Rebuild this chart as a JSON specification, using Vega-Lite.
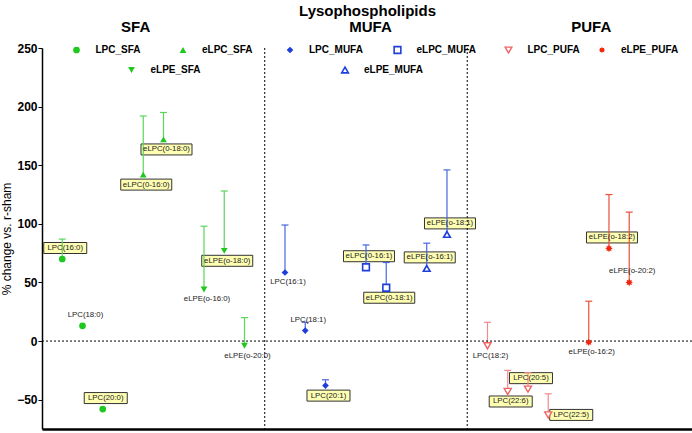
{
  "$schema": "https://vega.github.io/schema/vega-lite/v6.json",
  "width": 650,
  "height": 381,
  "autosize": {"type": "none"},
  "padding": {"left": 42, "top": 48, "right": 0, "bottom": 4},
  "background": "white",
  "config": {
    "view": {"stroke": null},
    "font": "Liberation Sans",
    "legend": {
      "orient": "none",
      "labelFont": "Liberation Sans",
      "labelFontSize": 10,
      "labelFontWeight": "bold",
      "labelColor": "black",
      "labelOffset": 14,
      "symbolSize": 45,
      "padding": 0
    }
  },
  "data": {
    "values": [
      {"g": "SFA", "s": "LPC_SFA", "l": "LPC(16:0)", "x": 0, "y": 70, "hi": 87},
      {"g": "SFA", "s": "LPC_SFA", "l": "LPC(18:0)", "x": 1, "y": 13, "hi": null},
      {"g": "SFA", "s": "LPC_SFA", "l": "LPC(20:0)", "x": 2, "y": -58, "hi": null},
      {"g": "SFA", "s": "eLPC_SFA", "l": "eLPC(0-16:0)", "x": 4, "y": 142, "hi": 192},
      {"g": "SFA", "s": "eLPC_SFA", "l": "eLPC(0-18:0)", "x": 5, "y": 172, "hi": 195},
      {"g": "SFA", "s": "eLPE_SFA", "l": "eLPE(o-16:0)", "x": 7, "y": 44, "hi": 98},
      {"g": "SFA", "s": "eLPE_SFA", "l": "eLPE(o-18:0)", "x": 8, "y": 77, "hi": 128},
      {"g": "SFA", "s": "eLPE_SFA", "l": "eLPE(o-20:0)", "x": 9, "y": -4, "hi": 20},
      {"g": "MUFA", "s": "LPC_MUFA", "l": "LPC(16:1)", "x": 11, "y": 58.5, "hi": 99},
      {"g": "MUFA", "s": "LPC_MUFA", "l": "LPC(18:1)", "x": 12, "y": 9, "hi": 16},
      {"g": "MUFA", "s": "LPC_MUFA", "l": "LPC(20:1)", "x": 13, "y": -38, "hi": -33},
      {"g": "MUFA", "s": "eLPC_MUFA", "l": "eLPC(0-16:1)", "x": 15, "y": 63, "hi": 82},
      {"g": "MUFA", "s": "eLPC_MUFA", "l": "eLPC(0-18:1)", "x": 16, "y": 45.5, "hi": 67},
      {"g": "MUFA", "s": "eLPE_MUFA", "l": "eLPE(o-16:1)", "x": 18, "y": 62, "hi": 83.5},
      {"g": "MUFA", "s": "eLPE_MUFA", "l": "eLPE(o-18:1)", "x": 19, "y": 91, "hi": 146},
      {"g": "PUFA", "s": "LPC_PUFA", "l": "LPC(18:2)", "x": 21, "y": -4, "hi": 16},
      {"g": "PUFA", "s": "LPC_PUFA", "l": "LPC(22:6)", "x": 22, "y": -43, "hi": -25},
      {"g": "PUFA", "s": "LPC_PUFA", "l": "LPC(20:5)", "x": 23, "y": -41, "hi": -27},
      {"g": "PUFA", "s": "LPC_PUFA", "l": "LPC(22:5)", "x": 24, "y": -63, "hi": -45},
      {"g": "PUFA", "s": "eLPE_PUFA", "l": "eLPE(o-16:2)", "x": 26, "y": -1, "hi": 34},
      {"g": "PUFA", "s": "eLPE_PUFA", "l": "eLPE(o-18:2)", "x": 27, "y": 79, "hi": 125},
      {"g": "PUFA", "s": "eLPE_PUFA", "l": "eLPE(o-20:2)", "x": 28, "y": 50, "hi": 110}
    ]
  },
  "resolve": {"scale": {"shape": "independent"}},
  "layer": [
    {
      "transform": [{"filter": {"field": "l", "oneOf": ["LPC(16:0)", "LPC(20:0)", "LPC(20:5)"]}}],
      "mark": {"type": "point", "shape": "M-0.74,-0.66L0.98,-0.66L0.98,-0.22L-0.74,-0.22Z", "size": 2500, "filled": true, "fill": "#ffffb3", "stroke": "#333333", "strokeWidth": 1, "opacity": 1},
      "encoding": {
        "x": {"field": "x", "type": "quantitative", "scale": {"domain": [-1, 31.1], "nice": false, "zero": false},
          "axis": {"orient": "bottom", "title": null, "labels": false, "ticks": false, "grid": false, "domainColor": "black", "domainWidth": 2.5}},
        "y": {"field": "y", "type": "quantitative", "scale": {"domain": [-75, 250], "nice": false, "zero": false},
          "title": "% change vs. r-sham",
          "axis": {
            "orient": "left",
            "values": [-50, 0, 50, 100, 150, 200, 250],
            "labelFont": "Liberation Sans", "labelFontSize": 12, "labelFontWeight": "bold", "labelColor": "black",
            "labelPadding": 1, "tickColor": "black", "tickSize": 4,
            "domainColor": "black", "domainWidth": 1.5, "grid": false,
            "titleFont": "Liberation Sans", "titleFontSize": 12, "titleFontWeight": "normal", "titleColor": "black", "titlePadding": 3
          }}
      }
    },
    {
      "transform": [{"filter": {"field": "l", "oneOf": ["eLPC(0-16:1)", "eLPE(o-16:1)", "eLPE(o-18:1)", "eLPE(o-18:2)"]}}],
      "mark": {"type": "point", "shape": "M-0.9,-0.66L1.14,-0.66L1.14,-0.22L-0.9,-0.22Z", "size": 2500, "filled": true, "fill": "#ffffb3", "stroke": "#333333", "strokeWidth": 1, "opacity": 1},
      "encoding": {"x": {"field": "x", "type": "quantitative", "axis": null}, "y": {"field": "y", "type": "quantitative"}}
    },
    {
      "transform": [{"filter": {"field": "l", "oneOf": ["LPC(20:1)", "LPC(22:6)"]}}],
      "mark": {"type": "point", "shape": "M-0.74,0.18L0.98,0.18L0.98,0.62L-0.74,0.62Z", "size": 2500, "filled": true, "fill": "#ffffb3", "stroke": "#333333", "strokeWidth": 1, "opacity": 1},
      "encoding": {"x": {"field": "x", "type": "quantitative", "axis": null}, "y": {"field": "y", "type": "quantitative"}}
    },
    {
      "transform": [{"filter": {"field": "l", "oneOf": ["eLPC(0-16:0)", "eLPC(0-18:0)", "eLPE(o-18:0)", "eLPC(0-18:1)"]}}],
      "mark": {"type": "point", "shape": "M-0.9,0.18L1.14,0.18L1.14,0.62L-0.9,0.62Z", "size": 2500, "filled": true, "fill": "#ffffb3", "stroke": "#333333", "strokeWidth": 1, "opacity": 1},
      "encoding": {"x": {"field": "x", "type": "quantitative", "axis": null}, "y": {"field": "y", "type": "quantitative"}}
    },
    {
      "transform": [{"filter": {"field": "l", "oneOf": ["LPC(22:5)"]}}],
      "mark": {"type": "point", "shape": "M0.06,-0.22L1.78,-0.22L1.78,0.22L0.06,0.22Z", "size": 2500, "filled": true, "fill": "#ffffb3", "stroke": "#333333", "strokeWidth": 1, "opacity": 1},
      "encoding": {"x": {"field": "x", "type": "quantitative", "axis": null}, "y": {"field": "y", "type": "quantitative"}}
    },
    {
      "transform": [{"filter": "datum.hi != null"}],
      "mark": {"type": "rule", "strokeWidth": 1.2},
      "encoding": {
        "x": {"field": "x", "type": "quantitative", "axis": null},
        "y": {"field": "y", "type": "quantitative"},
        "y2": {"field": "hi"},
        "color": {"field": "s", "type": "nominal", "legend": null,
          "scale": {"domain": ["LPC_SFA", "eLPC_SFA", "eLPE_SFA", "LPC_MUFA", "eLPC_MUFA", "eLPE_MUFA", "LPC_PUFA", "eLPE_PUFA"],
            "range": ["#5ad65a", "#5ad65a", "#5ad65a", "#4866e0", "#4866e0", "#4866e0", "#f28a8a", "#e8503c"]}}
      }
    },
    {
      "data": {"values": [{"z": 0}]},
      "mark": {"type": "rule", "color": "black", "strokeDash": [2, 2], "strokeWidth": 1},
      "encoding": {"y": {"field": "z", "type": "quantitative"}}
    },
    {
      "data": {"values": [{"d": 10}, {"d": 20}]},
      "mark": {"type": "rule", "color": "black", "strokeDash": [2, 2], "strokeWidth": 1},
      "encoding": {
        "x": {"field": "d", "type": "quantitative",
          "title": "Lysophospholipids",
          "axis": {
            "orient": "top", "values": [3.6, 15.2, 26.1],
            "labelExpr": "datum.value < 10 ? 'SFA' : (datum.value < 20 ? 'MUFA' : 'PUFA')",
            "labelFont": "Liberation Sans", "labelFontSize": 15, "labelFontWeight": "bold", "labelColor": "black",
            "labelPadding": 14, "labelOverlap": false, "labelFlush": false,
            "ticks": false, "domain": false, "grid": false,
            "titleFont": "Liberation Sans", "titleFontSize": 15, "titleFontWeight": "bold", "titleColor": "black", "titlePadding": 1
          }}
      }
    },
    {
      "transform": [{"filter": "datum.hi != null"}],
      "mark": {"type": "tick", "orient": "horizontal", "size": 7, "thickness": 1.2, "opacity": 1},
      "encoding": {
        "x": {"field": "x", "type": "quantitative", "axis": null},
        "y": {"field": "hi", "type": "quantitative"},
        "color": {"field": "s", "type": "nominal", "legend": null}
      }
    },
    {
      "transform": [{"filter": {"field": "s", "oneOf": ["LPC_SFA"]}}],
      "mark": {"type": "point", "filled": true, "size": 45, "color": "#1ec81e", "opacity": 1},
      "encoding": {"x": {"field": "x", "type": "quantitative", "axis": null}, "y": {"field": "y", "type": "quantitative"},
        "shape": {"field": "s", "type": "nominal", "scale": {"domain": ["LPC_SFA"], "range": ["circle"]}, "legend": {"title": null, "legendX": 29.5, "legendY": -3}}}
    },
    {
      "transform": [{"filter": {"field": "s", "oneOf": ["eLPC_SFA"]}}],
      "mark": {"type": "point", "filled": true, "size": 45, "color": "#1ec81e", "opacity": 1},
      "encoding": {"x": {"field": "x", "type": "quantitative", "axis": null}, "y": {"field": "y", "type": "quantitative"},
        "shape": {"field": "s", "type": "nominal", "scale": {"domain": ["eLPC_SFA"], "range": ["triangle-up"]}, "legend": {"title": null, "legendX": 136, "legendY": -3}}}
    },
    {
      "transform": [{"filter": {"field": "s", "oneOf": ["eLPE_SFA"]}}],
      "mark": {"type": "point", "filled": true, "size": 45, "color": "#1ec81e", "opacity": 1},
      "encoding": {"x": {"field": "x", "type": "quantitative", "axis": null}, "y": {"field": "y", "type": "quantitative"},
        "shape": {"field": "s", "type": "nominal", "scale": {"domain": ["eLPE_SFA"], "range": ["triangle-down"]}, "legend": {"title": null, "legendX": 84.5, "legendY": 17}}}
    },
    {
      "transform": [{"filter": {"field": "s", "oneOf": ["LPC_MUFA"]}}],
      "mark": {"type": "point", "filled": true, "size": 45, "color": "#1f3fdc", "opacity": 1},
      "encoding": {"x": {"field": "x", "type": "quantitative", "axis": null}, "y": {"field": "y", "type": "quantitative"},
        "shape": {"field": "s", "type": "nominal", "scale": {"domain": ["LPC_MUFA"], "range": ["diamond"]}, "legend": {"title": null, "legendX": 243, "legendY": -3}}}
    },
    {
      "transform": [{"filter": {"field": "s", "oneOf": ["eLPC_MUFA"]}}],
      "mark": {"type": "point", "filled": true, "size": 45, "fill": "white", "stroke": "#1f3fdc", "strokeWidth": 1.6, "opacity": 1},
      "encoding": {"x": {"field": "x", "type": "quantitative", "axis": null}, "y": {"field": "y", "type": "quantitative"},
        "shape": {"field": "s", "type": "nominal", "scale": {"domain": ["eLPC_MUFA"], "range": ["square"]}, "legend": {"title": null, "legendX": 350.5, "legendY": -3, "symbolStrokeWidth": 1.6}}}
    },
    {
      "transform": [{"filter": {"field": "s", "oneOf": ["eLPE_MUFA"]}}],
      "mark": {"type": "point", "filled": true, "size": 45, "fill": "white", "stroke": "#1f3fdc", "strokeWidth": 1.6, "opacity": 1},
      "encoding": {"x": {"field": "x", "type": "quantitative", "axis": null}, "y": {"field": "y", "type": "quantitative"},
        "shape": {"field": "s", "type": "nominal", "scale": {"domain": ["eLPE_MUFA"], "range": ["triangle-up"]}, "legend": {"title": null, "legendX": 298, "legendY": 17, "symbolStrokeWidth": 1.6}}}
    },
    {
      "transform": [{"filter": {"field": "s", "oneOf": ["LPC_PUFA"]}}],
      "mark": {"type": "point", "filled": true, "size": 50, "fill": "white", "stroke": "#f06464", "strokeWidth": 1.4, "opacity": 1},
      "encoding": {"x": {"field": "x", "type": "quantitative", "axis": null}, "y": {"field": "y", "type": "quantitative"},
        "shape": {"field": "s", "type": "nominal", "scale": {"domain": ["LPC_PUFA"], "range": ["triangle-down"]}, "legend": {"title": null, "legendX": 461.5, "legendY": -3, "symbolStrokeWidth": 1.4}}}
    },
    {
      "transform": [{"filter": {"field": "s", "oneOf": ["eLPE_PUFA"]}}],
      "mark": {"type": "point", "filled": true, "size": 55, "color": "#f2260f", "opacity": 1},
      "encoding": {"x": {"field": "x", "type": "quantitative", "axis": null}, "y": {"field": "y", "type": "quantitative"},
        "shape": {"field": "s", "type": "nominal", "scale": {"domain": ["eLPE_PUFA"], "range": ["M1,0L0.554,0.23L0.707,0.707L0.23,0.554L0,1L-0.23,0.554L-0.707,0.707L-0.554,0.23L-1,0L-0.554,-0.23L-0.707,-0.707L-0.23,-0.554L0,-1L0.23,-0.554L0.707,-0.707L0.554,-0.23Z"]}, "legend": {"title": null, "legendX": 555, "legendY": -3}}}
    },
    {
      "transform": [{"filter": {"field": "l", "oneOf": ["LPC(16:0)", "LPC(20:0)", "LPC(20:5)", "eLPC(0-16:1)", "eLPE(o-16:1)", "eLPE(o-18:1)", "eLPE(o-18:2)", "LPC(18:0)", "LPC(18:1)", "eLPE(o-20:2)"]}}],
      "mark": {"type": "text", "font": "Liberation Sans", "fontSize": 7.8, "color": "#222222", "dx": 3, "dy": -11, "baseline": "middle", "align": "center"},
      "encoding": {"x": {"field": "x", "type": "quantitative", "axis": null}, "y": {"field": "y", "type": "quantitative"}, "text": {"field": "l"}}
    },
    {
      "transform": [{"filter": {"field": "l", "oneOf": ["LPC(20:1)", "LPC(22:6)", "eLPC(0-16:0)", "eLPC(0-18:0)", "eLPE(o-18:0)", "eLPC(0-18:1)", "eLPE(o-16:0)", "eLPE(o-20:0)", "LPC(16:1)", "LPC(18:2)", "eLPE(o-16:2)"]}}],
      "mark": {"type": "text", "font": "Liberation Sans", "fontSize": 7.8, "color": "#222222", "dx": 3, "dy": 10, "baseline": "middle", "align": "center"},
      "encoding": {"x": {"field": "x", "type": "quantitative", "axis": null}, "y": {"field": "y", "type": "quantitative"}, "text": {"field": "l"}}
    },
    {
      "transform": [{"filter": {"field": "l", "oneOf": ["LPC(22:5)"]}}],
      "mark": {"type": "text", "font": "Liberation Sans", "fontSize": 7.8, "color": "#222222", "dx": 23, "dy": 0, "baseline": "middle", "align": "center"},
      "encoding": {"x": {"field": "x", "type": "quantitative", "axis": null}, "y": {"field": "y", "type": "quantitative"}, "text": {"field": "l"}}
    }
  ]
}
